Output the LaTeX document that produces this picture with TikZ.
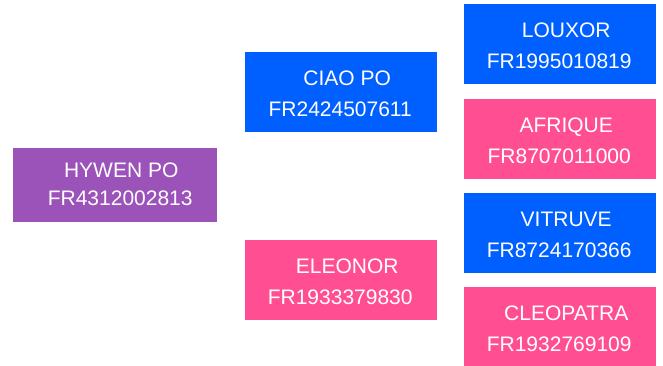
\documentclass[tikz,border=0pt]{standalone}
\usepackage{fontspec}
\setmainfont{Liberation Sans}
\definecolor{cblue}{RGB}{0,96,255}
\definecolor{cpink}{RGB}{255,79,146}
\definecolor{cpurple}{RGB}{155,82,185}
\tikzset{
  box/.style={draw=none, inner sep=0pt, anchor=north west},
  txt/.style={text=white, font=\fontsize{21}{24}\selectfont, anchor=base, inner sep=0pt}
}
\begin{document}
\begin{tikzpicture}[x=1pt,y=-1pt]
\useasboundingbox (0,0) rectangle (663,365);
% boxes
\node[box, fill=cpurple, minimum width=204pt, minimum height=74pt] (hy) at (13,148) {};
\node[box, fill=cblue, minimum width=192pt, minimum height=80pt] (ci) at (245,52) {};
\node[box, fill=cpink, minimum width=192pt, minimum height=80pt] (el) at (245,240) {};
\node[box, fill=cblue, minimum width=192pt, minimum height=80pt] (lo) at (464,4) {};
\node[box, fill=cpink, minimum width=192pt, minimum height=80pt] (af) at (464,99) {};
\node[box, fill=cblue, minimum width=192pt, minimum height=80pt] (vi) at (464,193) {};
\node[box, fill=cpink, minimum width=192pt, minimum height=80pt] (cl) at (464,287) {};
% texts
\node[txt] (hy1) at ([shift={(6,-8)}]hy.center) {HYWEN PO};
\node[txt] (hy2) at ([shift={(5,20)}]hy.center) {FR4312002813};
\foreach \n/\a/\b in {ci/CIAO PO/FR2424507611, el/ELEONOR/FR1933379830, lo/LOUXOR/FR1995010819, af/AFRIQUE/FR8707011000, vi/VITRUVE/FR8724170366, cl/CLEOPATRA/FR1932769109}{
  \node[txt] (\n1) at ([shift={(6,-7)}]\n.center) {\a};
  \node[txt] (\n2) at ([shift={(-1,24)}]\n.center) {\b};
}
\end{tikzpicture}
\end{document}
